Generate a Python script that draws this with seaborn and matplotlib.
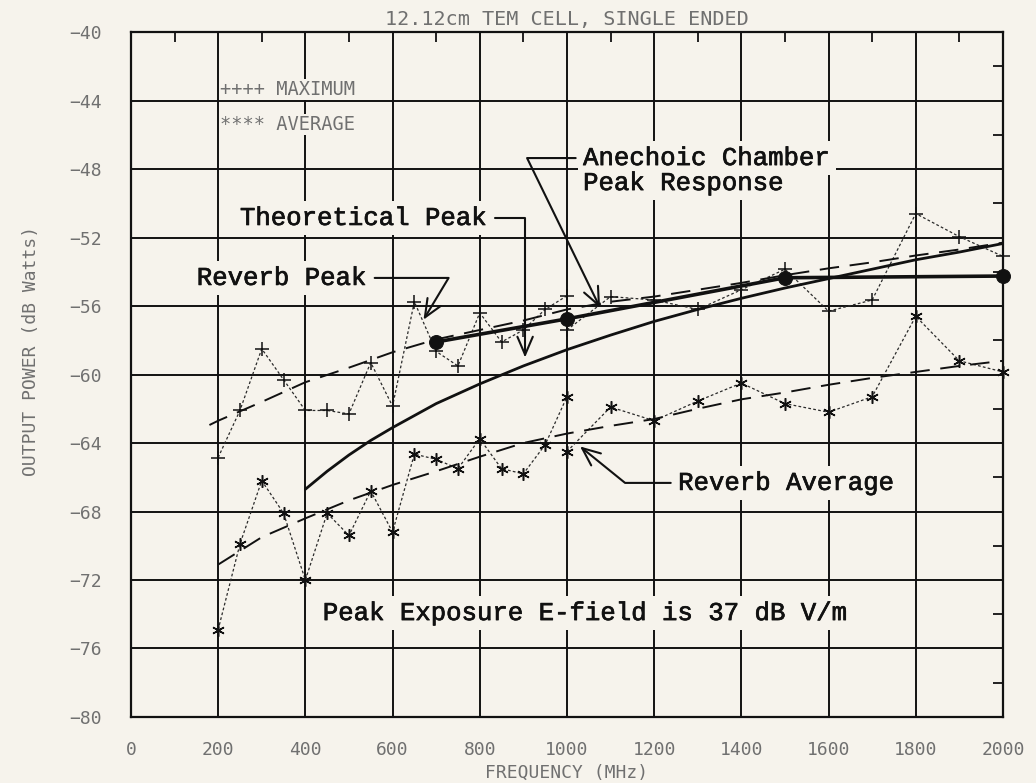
import matplotlib
matplotlib.use("Agg")
import matplotlib.pyplot as plt
import matplotlib.patheffects as pe
from matplotlib.ticker import MultipleLocator
import seaborn as sns

# ---- Reverberating TEM cell measurements (output power, dB Watts) ----
# Run A: 200-1000 MHz, 50 MHz steps
freq_a = [200, 250, 300, 350, 400, 450, 500, 550, 600, 650, 700, 750, 800,
          850, 900, 950, 1000]
max_a = [-64.85, -62.1, -58.5, -60.3, -62.1, -62.1, -62.3, -59.3, -61.85,
         -55.75, -58.65, -59.5, -56.4, -58.1, -57.4, -56.2, -55.4]
avg_a = [-74.9, -69.9, -66.2, -68.1, -72.0, -68.1, -69.4, -66.8, -69.2,
         -64.65, -64.95, -65.5, -63.75, -65.5, -65.8, -64.1, -61.3]

# Run B: 1000-2000 MHz, 100 MHz steps
freq_b = [1000, 1100, 1200, 1300, 1400, 1500, 1600, 1700, 1800, 1900, 2000]
max_b = [-57.4, -55.45, -55.65, -56.2, -55.05, -53.85, -56.3, -55.65, -50.6,
         -51.95, -53.1]
avg_b = [-64.5, -61.9, -62.7, -61.55, -60.5, -61.7, -62.2, -61.3, -56.6,
         -59.2, -59.85]

# Fitted trend curves through the maximum and average data
max_trend_freq = [180, 200, 300, 400, 500, 600, 700, 800, 900, 1000, 1100,
                  1200, 1300, 1400, 1500, 1600, 1700, 1800, 1900, 2000]
max_trend = [-62.95, -62.7, -61.6, -60.45, -59.6, -58.7, -57.95, -57.4,
             -56.85, -56.2, -55.75, -55.45, -55.05, -54.65, -54.2, -53.8,
             -53.45, -53.05, -52.7, -52.3]
avg_trend_freq = [200, 300, 400, 500, 600, 700, 800, 900, 1000, 1100, 1200,
                  1300, 1400, 1500, 1600, 1700, 1800, 1900, 2000]
avg_trend = [-71.1, -69.5, -68.4, -67.35, -66.45, -65.65, -64.8, -64.0,
             -63.45, -63.0, -62.6, -62.0, -61.45, -61.05, -60.6, -60.2,
             -59.85, -59.5, -59.2]

# Theoretical peak response
theory_freq = [400, 450, 500, 550, 600, 700, 800, 900, 1000, 1100, 1200,
               1300, 1400, 1500, 1600, 1700, 1800, 1900, 2000]
theory_peak = [-66.7, -65.65, -64.7, -63.85, -63.1, -61.7, -60.55, -59.5,
               -58.55, -57.7, -56.9, -56.2, -55.55, -54.95, -54.4, -53.85,
               -53.3, -52.85, -52.35]

# Anechoic chamber peak response
anechoic_freq = [700, 1000, 1500, 2000]
anechoic_peak = [-58.1, -56.75, -54.35, -54.25]

x_ticks = [0, 200, 400, 600, 800, 1000, 1200, 1400, 1600, 1800, 2000]
y_ticks = [-80, -76, -72, -68, -64, -60, -56, -52, -48, -44, -40]

title = "12.12cm TEM CELL, SINGLE ENDED"
x_label = "FREQUENCY (MHz)"
y_label = "OUTPUT POWER (dB Watts)"

# ---- styling ----
sns.set_style("white")
paper = "#f6f3ec"
ink = "#111111"
plotter_gray = "#707070"
plotter_font = ["DejaVu Sans Mono"]
type_font = ["Liberation Mono", "DejaVu Sans Mono"]
plt.rcParams["font.family"] = plotter_font

fig = plt.figure(figsize=(10.36, 7.83), dpi=100, facecolor=paper)
ax = fig.add_axes([0.1264, 0.0843, 0.8417, 0.8748], facecolor=paper)
ax.set_axisbelow(True)

dotted = (0, (2.2, 1.8))
dashed = (0, (10, 5.5))

# measured maxima (+) and averages (*), one line per run
for fx, fy in ((freq_a, max_a), (freq_b, max_b)):
    sns.lineplot(x=fx, y=fy, ax=ax, color="#2a2a2a", lw=0.9, linestyle=dotted,
                 marker="+", markersize=10, markeredgecolor=ink,
                 markeredgewidth=1.1, estimator=None, sort=False, zorder=3,
                 clip_on=False)
for fx, fy in ((freq_a, avg_a), (freq_b, avg_b)):
    sns.lineplot(x=fx, y=fy, ax=ax, color="#2a2a2a", lw=0.9, linestyle=dotted,
                 marker=(6, 2, 0), markersize=9, markeredgecolor=ink,
                 markeredgewidth=1.1, estimator=None, sort=False, zorder=3,
                 clip_on=False)

# trend curves
sns.lineplot(x=max_trend_freq, y=max_trend, ax=ax, color=ink, lw=1.4,
             linestyle=dashed, estimator=None, sort=False, zorder=3)
sns.lineplot(x=avg_trend_freq, y=avg_trend, ax=ax, color=ink, lw=1.4,
             linestyle=dashed, estimator=None, sort=False, zorder=3)

# theory and anechoic reference
sns.lineplot(x=theory_freq, y=theory_peak, ax=ax, color=ink, lw=2.0,
             estimator=None, sort=False, zorder=4)
sns.lineplot(x=anechoic_freq, y=anechoic_peak, ax=ax, color=ink, lw=2.6,
             marker="o", markersize=10, markeredgecolor=ink,
             markerfacecolor=ink, estimator=None, sort=False, zorder=4,
             clip_on=False)

# ---- axes ----
ax.set_xlim(0, 2000)
ax.set_ylim(-80, -40)
ax.set_xticks(x_ticks)
ax.set_yticks(y_ticks)
ax.xaxis.set_minor_locator(MultipleLocator(100))
ax.yaxis.set_minor_locator(MultipleLocator(2))
ax.grid(True, which="major", color=ink, lw=1.4)
ax.tick_params(which="major", length=0, labelsize=13, labelcolor=plotter_gray)
ax.tick_params(axis="x", which="major", pad=17)
ax.tick_params(axis="y", which="major", pad=21)
ax.tick_params(which="minor", direction="in", length=7, width=1.3,
               color=ink, top=True, right=True)
for s in ax.spines.values():
    s.set_color(ink)
    s.set_linewidth(1.6)
    s.set_visible(True)

ax.set_xlabel(x_label, fontsize=13, color=plotter_gray, labelpad=4)
ax.set_ylabel(y_label, fontsize=13, color=plotter_gray)
ax.yaxis.set_label_coords(-0.104, 0.535)
ax.set_title(title, fontsize=14.5, color=plotter_gray, pad=5)

# legend as plotter text
box = dict(boxstyle="square,pad=0.04", fc=paper, ec="none")
ax.text(205, -43.35, "++++ MAXIMUM", fontsize=13.5, color=plotter_gray,
        va="center", ha="left", bbox=box, zorder=6)
ax.text(205, -45.4, "**** AVERAGE", fontsize=13.5, color=plotter_gray,
        va="center", ha="left", bbox=box, zorder=6)

# ---- typed annotations ----
tbox = dict(boxstyle="square,pad=0.18", fc=paper, ec="none")
tfont = dict(family=type_font, fontsize=18.5, fontweight="normal", color=ink,
             path_effects=[pe.withStroke(linewidth=0.5, foreground=ink)])


def leader(text, xy, xytext, relpos, angle_a, angle_b):
    ax.annotate(text, xy=xy, xytext=xytext, textcoords="data",
                va="center", ha="left", bbox=tbox, zorder=7, **tfont,
                arrowprops=dict(arrowstyle="->,head_length=0.7,head_width=0.3",
                                lw=1.5, color=ink, relpos=relpos,
                                shrinkA=2, shrinkB=0,
                                connectionstyle=f"angle,angleA={angle_a},"
                                                f"angleB={angle_b},rad=0"))


leader("Theoretical Peak", (904, -59.0), (250, -50.86), (1, 0.5), 0, 90)
leader("Reverb Peak", (671, -56.8), (151, -54.36), (1, 0.5), 0, 59)
leader("Anechoic Chamber", (1076, -56.1), (1037, -47.36), (0, 0.5), 0, 116)
ax.text(1037, -48.82, "Peak Response", va="center", ha="left", bbox=tbox,
        zorder=7, **tfont)
leader("Reverb Average", (1030, -64.2), (1255, -66.33), (0, 0.5), 0, -39)
ax.text(440, -73.93, "Peak Exposure E-field is 37 dB V/m", va="center",
        ha="left", bbox=tbox, zorder=7, **tfont)

fig.savefig("out.png", dpi=100, facecolor=paper)
